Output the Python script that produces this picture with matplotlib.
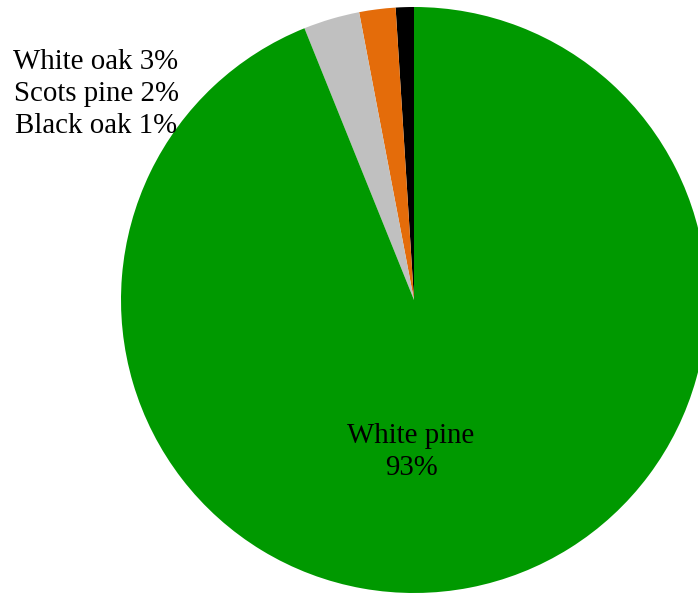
import matplotlib.pyplot as plt

# slice data (counter-clockwise from the top)
species = ["Black oak", "Scots pine", "White oak", "White pine"]
shares = [1.0, 2.0, 3.1, 93.9]
shown_pct = [1, 2, 3, 93]
colors = ["#000000", "#e46c0a", "#c0c0c0", "#009900"]

W, H = 698, 593
fig = plt.figure(figsize=(W / 100, H / 100), dpi=100)
ax = fig.add_axes([0, 0, 1, 1])

# pixel-like data coords so the pie can sit partly off the right edge
cx, cy, r = 414, H - 300, 293
ax.pie(shares, colors=colors, startangle=90, counterclock=True,
       center=(cx, cy), radius=r, frame=True,
       wedgeprops=dict(linewidth=0))
ax.set_xlim(0, W)
ax.set_ylim(0, H)
ax.set_aspect("equal")
ax.axis("off")

font = dict(family="Liberation Serif", size=20.8, color="black")

# small slices labelled in the top-left corner
small_lines = [f"{n} {p}%" for n, p in zip(species[:3], shown_pct[:3])][::-1]
for i, line in enumerate(small_lines):
    ax.text(96, H - 62 - 32 * i, line, ha="center", va="center", **font)

ax.text(411, H - 452, f"{species[3]}\n{shown_pct[3]}%", ha="center",
        va="center", linespacing=1.3, **font)

fig.savefig("out.png", dpi=100)
